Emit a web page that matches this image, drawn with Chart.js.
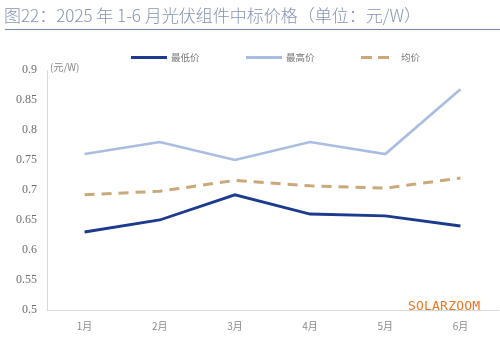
<!DOCTYPE html>
<html>
<head>
<meta charset="utf-8">
<script src="https://cdn.jsdelivr.net/npm/chart.js@4/dist/chart.umd.min.js"></script>
<style>
  html, body { margin:0; padding:0; background:#fff; }
  #wrap { position:relative; width:500px; height:339px; overflow:hidden; font-family:"Noto Sans CJK SC", "Noto Sans", sans-serif; }
  #titulo { position:absolute; left:4px; top:2px; font-size:17px; font-weight:300; color:#8592b5; white-space:nowrap; }
  #linha { position:absolute; left:5px; right:0; top:29px; border-top:1.5px solid #7585ad; }
  #grafico { position:absolute; left:0; top:0; }
  #legenda { position:absolute; top:49px; left:0; right:0; height:16px; }
  .item { position:absolute; top:0; display:flex; align-items:center; font-size:9.5px; color:#777; height:16px; }
  .traco { display:inline-block; width:36px; height:3px; margin-right:4px; }
  #unidade { position:absolute; left:50px; top:59px; font-size:10px; color:#888; }
  #marca { position:absolute; left:408px; top:298px; font-family:"DejaVu Sans Mono", monospace; font-size:13px; color:#f07424; letter-spacing:0.2px; }
</style>
</head>
<body>
<div id="wrap">
  <canvas id="grafico" width="500" height="339"></canvas>
  <div id="titulo">图22：2025 年 1-6 月光伏组件中标价格（单位：元/W）</div>
  <div id="linha"></div>
  <div id="legenda"></div>
  <div id="unidade">(元/W)</div>
  <div id="marca">SOLARZOOM</div>
</div>
<script>
const meses = ["1月", "2月", "3月", "4月", "5月", "6月"];
const precoMinimo = [0.630, 0.650, 0.692, 0.660, 0.657, 0.640];
const precoMaximo = [0.760, 0.780, 0.750, 0.780, 0.760, 0.868];
const precoMedio  = [0.692, 0.698, 0.716, 0.707, 0.703, 0.720];

const series = [
  { label:"最低价", data:precoMinimo, borderColor:"#1d3b8e", borderWidth:2.8, borderDash:[] },
  { label:"最高价", data:precoMaximo, borderColor:"#a9bde2", borderWidth:2.6, borderDash:[] },
  { label:"均价",   data:precoMedio,  borderColor:"#c9a97a", borderWidth:3,   borderDash:[10, 7] }
];

const el = (id) => document.getElementById(id);

// legend drawn as html so the spacing between items can be set freely
function montarLegenda(chart){
  const box = el("legenda");
  const inicio = [131, 246, 361];
  box.innerHTML = "";
  chart.data.datasets.forEach((ds, i) => {
    const item = document.createElement("div");
    item.className = "item";
    item.style.left = inicio[i] + "px";
    const traco = document.createElement("span");
    traco.className = "traco";
    if(ds.borderDash.length){
      traco.style.background = `repeating-linear-gradient(90deg, ${ds.borderColor} 0 11px, transparent 11px 17px)`;
      traco.style.width = "29px";
      traco.style.marginRight = "11px";
    } else {
      traco.style.background = ds.borderColor;
    }
    item.appendChild(traco);
    item.appendChild(document.createTextNode(ds.label));
    box.appendChild(item);
  });
}

const grafico = new Chart(el("grafico"), {
  type:"line",
  data:{
    labels: meses,
    datasets: series.map(s => ({ ...s, fill:false, tension:0, pointRadius:0, pointHoverRadius:0 }))
  },
  options:{
    responsive:false,
    animation:false,
    layout:{ padding:{ top:70, right:2, bottom:0, left:0 } },
    plugins:{ legend:{ display:false }, tooltip:{ enabled:false } },
    scales:{
      x:{
        offset:true,
        grid:{ display:false, drawTicks:false },
        border:{ display:true, color:"#d9d9d9", width:1 },
        ticks:{ padding:10, color:"#8a8a8a", font:{ family:"Noto Sans CJK SC", size:10 } },
        afterFit:(s) => { s.height = 29; }
      },
      y:{
        min:0.5, max:0.9,
        grid:{ display:false, drawTicks:false },
        border:{ display:true, color:"#d9d9d9", width:1 },
        ticks:{ stepSize:0.05, padding:10, color:"#6e6e6e", font:{ family:"'Liberation Serif', serif", size:12 },
          callback:(v) => String(+v.toFixed(2)) },
        afterFit:(s) => { s.width = 47; }
      }
    }
  }
});

montarLegenda(grafico);
</script>
</body>
</html>
